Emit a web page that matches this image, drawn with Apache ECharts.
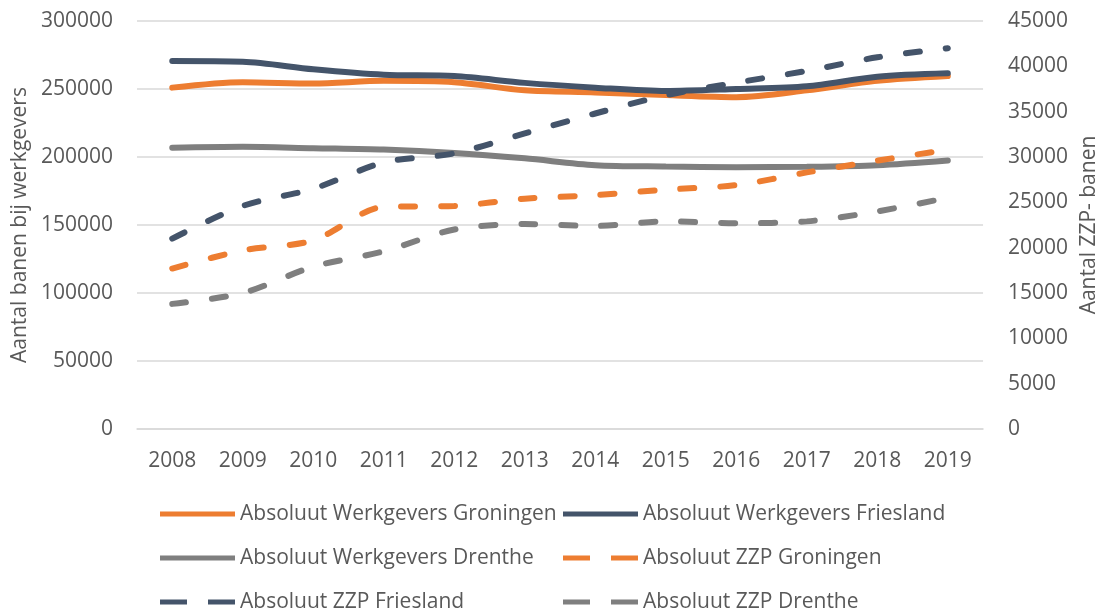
<!DOCTYPE html>
<html>
<head>
<meta charset="utf-8">
<script src="https://cdn.jsdelivr.net/npm/echarts@6/dist/echarts.min.js"></script>
<style>
  html, body { margin: 0; padding: 0; background: #fff; }
  #myChart { width: 1108px; height: 614px; }
</style>
</head>
<body>
<div id="myChart"></div>
<script>
const years = ["2008", "2009", "2010", "2011", "2012", "2013", "2014", "2015", "2016", "2017", "2018", "2019"];

// banen bij werkgevers (linker as)
const wgGroningen = [251000, 255000, 254000, 256000, 255000, 249000, 247500, 245500, 244000, 249000, 256000, 259500];
const wgFriesland = [270500, 270000, 264500, 260500, 259500, 254500, 251000, 248500, 250000, 252000, 259000, 261500];
const wgDrenthe = [206800, 207500, 206500, 205500, 203000, 199000, 194000, 193000, 192500, 192800, 194000, 197500];

// ZZP-banen (rechter as)
const zzpGroningen = [17700, 19700, 20800, 24500, 24600, 25400, 25800, 26400, 26900, 28300, 29600, 30800];
const zzpFriesland = [21000, 24600, 26500, 29400, 30400, 32600, 34800, 36800, 38200, 39500, 41000, 42000];
const zzpDrenthe = [13800, 15000, 17900, 19600, 22000, 22600, 22400, 22900, 22700, 22900, 24000, 25500];

const colors = { orange: "#ED7D31", dark: "#44546A", gray: "#7F7F7F" };
const font = "'Open Sans', 'Noto Sans', sans-serif";
const textColor = "#595959";
const fs = 21;

// legend icons: a solid bar or two dashes
const solidIcon = "path://M0,0H75V5H0Z";
const dashIcon = "path://M0,0H27V5H0Z M48,0H75V5H48Z";

var myChart = echarts.init(document.getElementById("myChart"));

const makeLine = (name, data, color, dashed, axis) => ({
  name,
  type: "line",
  data,
  yAxisIndex: axis,
  showSymbol: false,
  symbol: "none",
  smooth: 0.3,
  itemStyle: { color },
  lineStyle: {
    color,
    width: 6,
    cap: "round",
    type: dashed ? [14, 26] : "solid",
  },
});

const legendItem = (name, dashed) => ({ name, icon: dashed ? dashIcon : solidIcon });

const legendBase = {
  orient: "vertical",
  itemWidth: 75,
  itemHeight: 5,
  itemGap: 20,
  padding: 0,
  height: 140,
  width: 420,
  textStyle: { fontFamily: font, fontSize: fs, lineHeight: 24, color: textColor },
  top: 502,
};

const plain = (v) => String(v);

myChart.setOption({
  animation: false,
  textStyle: { fontFamily: font },
  grid: { left: 137, right: 120, top: 21, bottom: 185 },
  legend: [
    Object.assign({}, legendBase, {
      left: 160,
      data: [
        legendItem("Absoluut Werkgevers Groningen", false),
        legendItem("Absoluut Werkgevers Drenthe", false),
        legendItem("Absoluut ZZP Friesland", true),
      ],
    }),
    Object.assign({}, legendBase, {
      left: 563,
      data: [
        legendItem("Absoluut Werkgevers Friesland", false),
        legendItem("Absoluut ZZP Groningen", true),
        legendItem("Absoluut ZZP Drenthe", true),
      ],
    }),
  ],
  xAxis: {
    type: "category",
    data: years,
    boundaryGap: true,
    axisLine: { show: true, lineStyle: { color: "#d9d9d9", width: 1.5 } },
    axisTick: { show: false },
    axisLabel: { color: textColor, fontSize: fs, fontFamily: font, margin: 22 },
  },
  yAxis: [
    {
      type: "value",
      min: 0,
      max: 300000,
      interval: 50000,
      name: "Aantal banen bij werkgevers",
      nameLocation: "middle",
      nameGap: 106,
      nameTextStyle: { color: textColor, fontSize: fs, fontFamily: font },
      axisLine: { show: false },
      axisTick: { show: false },
      axisLabel: { color: textColor, fontSize: fs, fontFamily: font, margin: 24, formatter: plain },
      splitLine: { lineStyle: { color: "#d9d9d9", width: 1.5 } },
    },
    {
      type: "value",
      min: 0,
      max: 45000,
      interval: 5000,
      position: "right",
      name: "Aantal ZZP- banen",
      nameLocation: "middle",
      nameGap: 94,
      nameRotate: 90,
      nameTextStyle: { color: textColor, fontSize: fs, fontFamily: font },
      axisLine: { show: false },
      axisTick: { show: false },
      axisLabel: { color: textColor, fontSize: fs, fontFamily: font, margin: 25, formatter: plain },
      splitLine: { show: false },
    },
  ],
  series: [
    makeLine("Absoluut Werkgevers Groningen", wgGroningen, colors.orange, false, 0),
    makeLine("Absoluut Werkgevers Friesland", wgFriesland, colors.dark, false, 0),
    makeLine("Absoluut Werkgevers Drenthe", wgDrenthe, colors.gray, false, 0),
    makeLine("Absoluut ZZP Groningen", zzpGroningen, colors.orange, true, 1),
    makeLine("Absoluut ZZP Friesland", zzpFriesland, colors.dark, true, 1),
    makeLine("Absoluut ZZP Drenthe", zzpDrenthe, colors.gray, true, 1),
  ],
});
</script>
</body>
</html>
